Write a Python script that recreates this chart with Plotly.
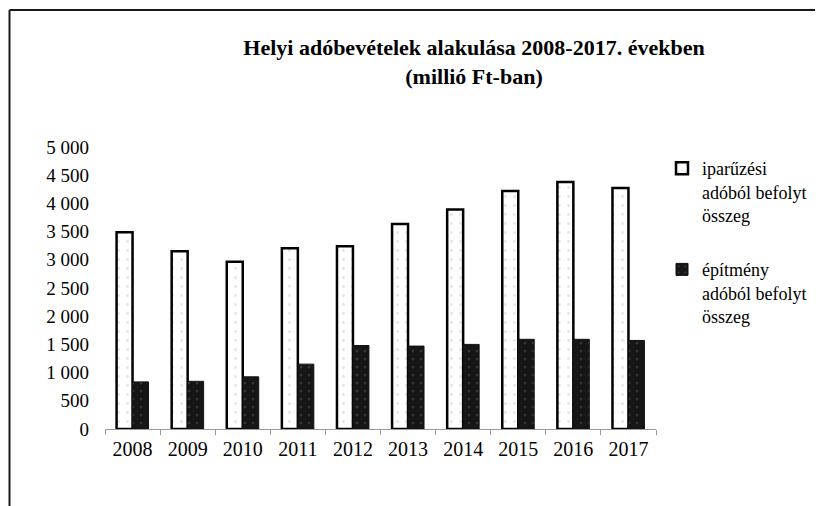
import plotly.graph_objects as go

years = ["2008", "2009", "2010", "2011", "2012", "2013", "2014", "2015", "2016", "2017"]
iparuzesi = [3490, 3150, 2965, 3205, 3240, 3635, 3890, 4220, 4380, 4275]
epitmeny = [835, 845, 925, 1150, 1480, 1470, 1500, 1590, 1590, 1570]
name_ipar = "iparűzési<br>adóból befolyt<br>összeg"
name_epit = "építmény<br>adóból befolyt<br>összeg"
y_tickvals = [0, 500, 1000, 1500, 2000, 2500, 3000, 3500, 4000, 4500, 5000]
y_ticktext = ["0", "500", "1 000", "1 500", "2 000", "2 500", "3 000", "3 500", "4 000", "4 500", "5 000"]
title_text = "<b>Helyi adóbevételek alakulása 2008-2017. években<br>(millió Ft-ban)</b>"

FONT = "Liberation Serif, Times New Roman, serif"
OFF = 8  # page body margin

fig = go.Figure()
fig.add_trace(go.Bar(
    x=years, y=iparuzesi, name=name_ipar, legendgroup="a",
    marker=dict(color="white", line=dict(color="black", width=2.5),
                pattern=dict(shape=".", fgcolor="#cccccc", bgcolor="white",
                             size=9, solidity=0.08)),
))
fig.add_trace(go.Bar(
    x=years, y=epitmeny, name=name_epit, legendgroup="b",
    marker=dict(color="#161616", line=dict(color="#111111", width=1),
                pattern=dict(shape=".", fgcolor="#595959", bgcolor="#161616",
                             size=8, solidity=0.08)),
))

W, H = 823, 506
# target screen coordinates of the plot area
sx0, sx1, sy0, sy1 = 105, 656, 147, 429
L, R = sx0 - OFF, W - (sx1 - OFF)
T, B = sy0 - OFF, H - (sy1 - OFF)
pw, ph = W - L - R, H - T - B

def px_x(sx):
    return (sx - OFF - L) / pw

def px_y(sy):
    return (H - B - (sy - OFF)) / ph

fig.update_layout(
    width=W, height=H,
    margin=dict(l=L, r=R, t=T, b=B),
    paper_bgcolor="white", plot_bgcolor="white",
    font=dict(family=FONT, size=19, color="black"),
    barmode="group", bargap=0.42, bargroupgap=0.0,
    title=dict(text=title_text, x=(474 - OFF) / W, xanchor="center",
               y=1 - (47 - OFF + 8) / H, yanchor="top", yref="container",
               font=dict(family=FONT, size=22, color="black")),
    showlegend=True,
    legend=dict(x=px_x(662), y=px_y(150), xanchor="left", yanchor="top",
                font=dict(family=FONT, size=18, color="black"),
                valign="top", tracegroupgap=28, bgcolor="rgba(0,0,0,0)",
                itemclick=False),
    xaxis=dict(type="category", showline=True, linecolor="#9a9a9a", linewidth=1,
               ticks="outside", tickson="boundaries", ticklen=5, tickcolor="#9a9a9a",
               ticklabelstandoff=2,
               showgrid=False, tickfont=dict(family=FONT, size=20)),
    yaxis=dict(range=[0, 5000], tickvals=y_tickvals, ticktext=y_ticktext,
               showline=False, showgrid=False, zeroline=False, ticks="",
               ticklabelstandoff=15, tickfont=dict(family=FONT, size=19)),
    shapes=[
        dict(type="line", xref="paper", yref="paper",
             x0=px_x(9.5), x1=px_x(W + 10), y0=px_y(10), y1=px_y(10),
             line=dict(color="#1a1a1a", width=2)),
        dict(type="line", xref="paper", yref="paper",
             x0=px_x(9.5), x1=px_x(9.5), y0=px_y(10), y1=px_y(H + 10),
             line=dict(color="#1a1a1a", width=2)),
    ],
)

fig.write_html("out.html")
